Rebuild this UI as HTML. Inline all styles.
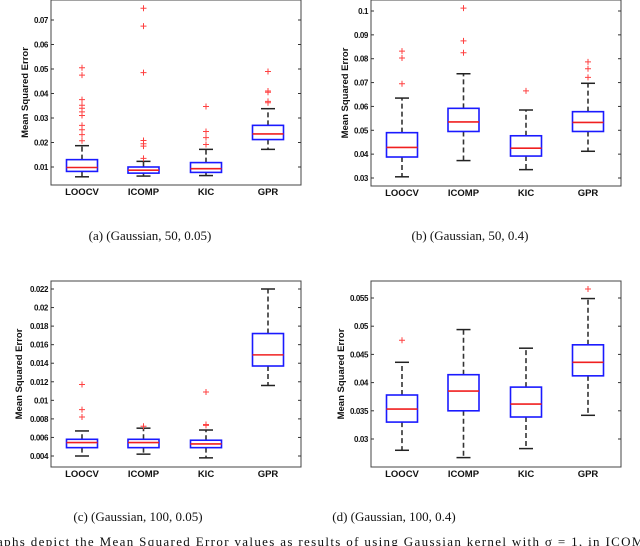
<!DOCTYPE html>
<html><head><meta charset="utf-8">
<style>
html,body{margin:0;padding:0;background:#fff;width:640px;height:546px;overflow:hidden;}
svg{position:absolute;left:0;top:0;}
.tk{font-family:"Liberation Sans",sans-serif;font-size:8px;font-weight:bold;fill:#111;letter-spacing:-0.4px;}
.cat{font-family:"Liberation Sans",sans-serif;font-size:9.5px;font-weight:bold;fill:#111;}
.yl{font-family:"Liberation Sans",sans-serif;font-size:9.5px;font-weight:bold;fill:#111;}
.cap{font-family:"Liberation Serif",serif;font-size:13px;fill:#111;}
</style></head><body>
<svg id="fig" width="640" height="546" viewBox="0 0 640 546"></svg>
<script>
const categories = ["LOOCV","ICOMP","KIC","GPR"];
// panel a
const aQ1=[0.0082,0.0075,0.0078,0.0212], aMed=[0.0098,0.0087,0.0093,0.0235], aQ3=[0.013,0.0100,0.0118,0.027];
const aLo=[0.006,0.0063,0.0065,0.0172], aHi=[0.0187,0.0123,0.0172,0.0338];
const aOut=[[0.0207,0.0232,0.0252,0.027,0.031,0.0325,0.034,0.0352,0.0375,0.0475,0.0505],[0.0135,0.0185,0.0195,0.0208,0.0485,0.0675,0.0748],[0.0192,0.022,0.0245,0.0347],[0.0362,0.0368,0.0405,0.041,0.049]];
const aTicks=[0.01,0.02,0.03,0.04,0.05,0.06,0.07];
const aTickLabels=["0.01","0.02","0.03","0.04","0.05","0.06","0.07"];
// panel b
const bQ1=[0.0388,0.0495,0.0392,0.0495], bMed=[0.0428,0.0535,0.0425,0.0533], bQ3=[0.049,0.0592,0.0477,0.0578];
const bLo=[0.0305,0.0373,0.0335,0.0412], bHi=[0.0635,0.0737,0.0585,0.0697];
const bOut=[[0.0695,0.0803,0.0832],[0.0825,0.0875,0.1012],[0.0665],[0.0722,0.0758,0.0787]];
const bTicks=[0.03,0.04,0.05,0.06,0.07,0.08,0.09,0.1];
const bTickLabels=["0.03","0.04","0.05","0.06","0.07","0.08","0.09","0.1"];
// panel c
const cQ1=[0.0049,0.0049,0.0049,0.0137], cMed=[0.00545,0.00545,0.0053,0.0149], cQ3=[0.0058,0.0058,0.0057,0.0172];
const cLo=[0.0040,0.0042,0.0038,0.0116], cHi=[0.0067,0.0070,0.0068,0.022];
const cOut=[[0.0082,0.009,0.0117],[0.0072],[0.0073,0.0074,0.0109],[]];
const cTicks=[0.004,0.006,0.008,0.01,0.012,0.014,0.016,0.018,0.02,0.022];
const cTickLabels=["0.004","0.006","0.008","0.01","0.012","0.014","0.016","0.018","0.02","0.022"];
// panel d
const dQ1=[0.033,0.035,0.0339,0.0412], dMed=[0.0353,0.0385,0.0362,0.0436], dQ3=[0.0378,0.0414,0.0392,0.0467];
const dLo=[0.028,0.0267,0.0283,0.0342], dHi=[0.0436,0.0494,0.0461,0.0549];
const dOut=[[0.0475],[],[],[0.0566]];
const dTicks=[0.03,0.035,0.04,0.045,0.05,0.055];
const dTickLabels=["0.03","0.035","0.04","0.045","0.05","0.055"];

const NS="http://www.w3.org/2000/svg";
const svg=document.getElementById('fig');
function mk(tag,attrs,parent){const e=document.createElementNS(NS,tag);for(const k in attrs)e.setAttribute(k,attrs[k]);(parent||svg).appendChild(e);return e;}

function panel(id,ox,oy,top,bot,v0,p0,v1,p1,ticks,tickLabels,q1,med,q3,lo,hi,outs,titleX){
  const g=mk('g',{transform:`translate(${ox},${oy})`});
  
  
  const L=51,R=301;
  const y=v=>p0+(v-v0)*(p1-p0)/(v1-v0);
  const xs=[82,143.5,206,268];
  const x=i=>xs[i];
  const frame=mk('rect',{x:L,y:top,width:R-L,height:bot-top,fill:'none',stroke:'#444','stroke-width':1},g);
  
  
  ticks.forEach((t,i)=>{
    const yy=y(t);
    mk('line',{x1:L,x2:L+3,y1:yy,y2:yy,stroke:'#333','stroke-width':1},g);
    mk('line',{x1:R-3,x2:R,y1:yy,y2:yy,stroke:'#333','stroke-width':1},g);
    const tx=mk('text',{x:L-3,y:yy+3,'text-anchor':'end',class:'tk'},g);
    tx.textContent=tickLabels[i];
    
    
  });
  const yl=mk('text',{x:0,y:0,transform:`translate(${titleX},${(top+bot)/2}) rotate(-90)`,'text-anchor':'middle',class:'yl'},g);
  yl.textContent='Mean Squared Error';
  
  
  categories.forEach((c,i)=>{
    const cx=x(i);
    const bg=mk('g',{},g);
    
    
    mk('line',{x1:cx,x2:cx,y1:y(q3[i]),y2:y(hi[i]),stroke:'#333','stroke-width':1.6,'stroke-dasharray':'5,3'},bg);
    mk('line',{x1:cx,x2:cx,y1:y(q1[i]),y2:y(lo[i]),stroke:'#333','stroke-width':1.6,'stroke-dasharray':'5,3'},bg);
    mk('line',{x1:cx-7,x2:cx+7,y1:y(hi[i]),y2:y(hi[i]),stroke:'#222','stroke-width':1.5},bg);
    mk('line',{x1:cx-7,x2:cx+7,y1:y(lo[i]),y2:y(lo[i]),stroke:'#222','stroke-width':1.5},bg);
    mk('rect',{x:cx-15.5,y:y(q3[i]),width:31,height:y(q1[i])-y(q3[i]),fill:'#fff',stroke:'#1a1aff','stroke-width':1.6},bg);
    mk('line',{x1:cx-15.5,x2:cx+15.5,y1:y(med[i]),y2:y(med[i]),stroke:'#f02020','stroke-width':1.6},bg);
    outs[i].forEach(o=>{
      const oy2=y(o);
      const p=mk('path',{d:`M${cx-3},${oy2}H${cx+3}M${cx},${oy2-3}V${oy2+3}`,stroke:'#ff4040','stroke-width':1},bg);
      
      
    });
    const t=mk('text',{x:cx,y:bot+10,'text-anchor':'middle',class:'cat'},g);
    t.textContent=c;
    
    
  });
}
panel('a',0,0,0,185,0.01,167,0.07,20,aTicks,aTickLabels,aQ1,aMed,aQ3,aLo,aHi,aOut,28);
panel('b',320,0,0,186,0.03,178,0.1,11,bTicks,bTickLabels,bQ1,bMed,bQ3,bLo,bHi,bOut,28);
panel('c',0,270,11,197,0.004,186,0.022,19,cTicks,cTickLabels,cQ1,cMed,cQ3,cLo,cHi,cOut,22);
panel('d',320,270,11,197,0.03,169,0.055,28,dTicks,dTickLabels,dQ1,dMed,dQ3,dLo,dHi,dOut,24);

function cap(x,y,txt,name){const t=mk('text',{x:x,y:y,'text-anchor':'middle',class:'cap'});t.textContent=txt;
  
  }
cap(150,240,'(a) (Gaussian, 50, 0.05)','caption-a');
cap(470,240,'(b) (Gaussian, 50, 0.4)','caption-b');
cap(138,521,'(c) (Gaussian, 100, 0.05)','caption-c');
cap(394,521,'(d) (Gaussian, 100, 0.4)','caption-d');
const bt=mk('text',{x:-3,y:546,class:'cap','font-size':'14',textLength:'655',lengthAdjust:'spacing'});
bt.textContent='aphs depict the Mean Squared Error values as results of using Gaussian kernel with σ = 1, in ICOMP';


</script>
</body></html>
